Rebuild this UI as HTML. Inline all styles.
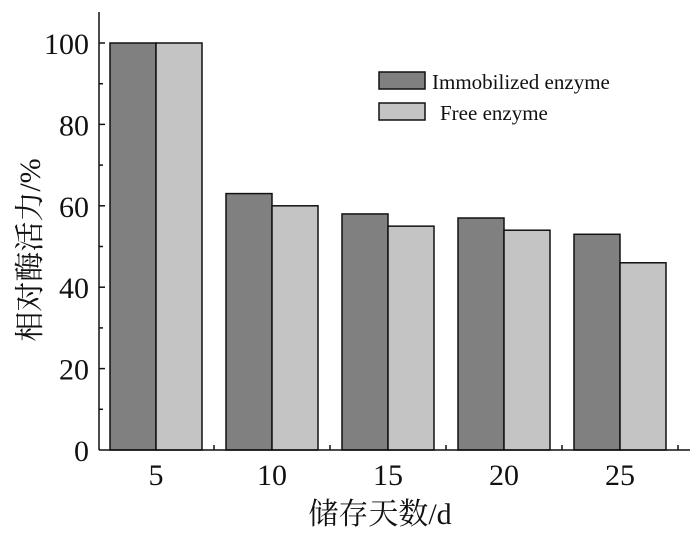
<!DOCTYPE html>
<html><head><meta charset="utf-8"><style>
body{margin:0;background:#fff;}
svg text{font-family:"Liberation Serif","Noto Serif CJK SC",serif;fill:#111;}
</style></head><body>
<svg width="700" height="533" xmlns="http://www.w3.org/2000/svg">
<g id="bars"></g>
<g id="axes"></g>
<g>
<rect x="379" y="72" width="46" height="17" fill="#808080" stroke="#111" stroke-width="1.5"/>
<text x="432" y="89" font-size="21">Immobilized enzyme</text>
<rect x="379" y="103" width="46" height="17" fill="#c4c4c4" stroke="#111" stroke-width="1.5"/>
<text x="440" y="120" font-size="21">Free enzyme</text>
</g>
<text x="380" y="524" font-size="30" text-anchor="middle">储存天数/d</text>
<text transform="translate(40,250) rotate(-90)" font-size="30" text-anchor="middle">相对酶活力/%</text>
</svg>
<script>
const categories=["5","10","15","20","25"];
const immobilized=[100,63,58,57,53];
const free=[100,60,55,54,46];
const yTicks=[0,20,40,60,80,100];
const NS="http://www.w3.org/2000/svg";
const x0=99,y0=450,yTop=43,step=116,bw=46,firstC=156;
function ys(v){return y0-(y0-yTop)*v/100;}
function xc(i){return firstC+i*step;}
const bars=document.getElementById('bars'),axes=document.getElementById('axes');
function mk(tag,at,parent){const e=document.createElementNS(NS,tag);for(const k in at)e.setAttribute(k,at[k]);parent.appendChild(e);return e;}
categories.forEach((c,i)=>{
 const r1=mk('rect',{x:xc(i)-bw,y:ys(immobilized[i]),width:bw,height:y0-ys(immobilized[i]),fill:'#808080',stroke:'#111','stroke-width':1.5},bars);
 
 
 const r2=mk('rect',{x:xc(i),y:ys(free[i]),width:bw,height:y0-ys(free[i]),fill:'#c4c4c4',stroke:'#111','stroke-width':1.5},bars);
 
 
 const t=mk('text',{x:xc(i),y:485,'font-size':30,'text-anchor':'middle'},axes);
 t.textContent=c;
 
 
 const tk=mk('line',{x1:xc(i)+58,x2:xc(i)+58,y1:y0,y2:y0-5,stroke:'#111','stroke-width':1.5},axes);
 
 
});
const ya=mk('line',{x1:x0,x2:x0,y1:12,y2:y0,stroke:'#111','stroke-width':1.5},axes);


const xa=mk('line',{x1:x0,x2:690,y1:y0,y2:y0,stroke:'#111','stroke-width':1.5},axes);


for(let v=10;v<=100;v+=10){
 const l=mk('line',{x1:x0,x2:x0+(v%20==0?6:4),y1:ys(v),y2:ys(v),stroke:'#111','stroke-width':1.5},axes);
 
 
}
yTicks.forEach(v=>{
 const t=mk('text',{x:89,y:ys(v)+11,'font-size':30,'text-anchor':'end'},axes);
 t.textContent=v;
 
 
});
</script>
</body></html>
